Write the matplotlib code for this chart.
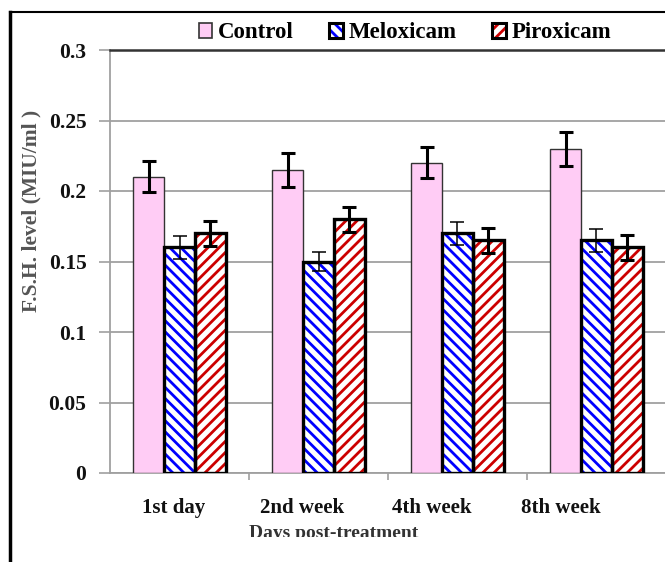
import matplotlib.pyplot as plt
import numpy as np
from matplotlib.legend_handler import HandlerTuple
from matplotlib.lines import Line2D
from matplotlib.patches import Patch
from matplotlib.transforms import Bbox

plt.rcParams["font.family"] = ["Liberation Serif", "DejaVu Serif"]
plt.rcParams["font.weight"] = "bold"
plt.rcParams["hatch.linewidth"] = 2.0

# ── data ──
categories = ["1st day", "2nd week", "4th week", "8th week"]
control = [0.21, 0.215, 0.22, 0.23]
control_err = [0.011, 0.012, 0.011, 0.012]
meloxicam = [0.16, 0.15, 0.17, 0.165]
meloxicam_err = [0.008, 0.007, 0.008, 0.008]
piroxicam = [0.17, 0.18, 0.165, 0.16]
piroxicam_err = [0.009, 0.009, 0.009, 0.009]
yticks = [0, 0.05, 0.1, 0.15, 0.2, 0.25, 0.3]

PINK = "#ffccf5"
BLUE = "#0000ff"
RED = "#cc0000"
BLUE_HATCH = "\\\\\\"
RED_HATCH = "///"

fig = plt.figure(figsize=(6.65, 5.62), dpi=100)
ax = fig.add_axes([110 / 665, 1 - 473 / 562, 556 / 665, 423 / 562])

x = np.arange(len(categories))
w = 0.223

# control: plain pink bars
ax.bar(x - w, control, w, color=PINK, edgecolor="#333333", linewidth=1.0, zorder=3)
ax.errorbar(x - w, control, yerr=control_err, fmt="none", ecolor="black",
            elinewidth=2.2, capsize=5, capthick=2.2, zorder=5)

# hatched bars: coloured hatch first, black outline on top
for off, vals, errs, col, hatch, elw in [
    (0.0, meloxicam, meloxicam_err, BLUE, BLUE_HATCH, 1.1),
    (w, piroxicam, piroxicam_err, RED, RED_HATCH, 2.2),
]:
    ax.bar(x + off, vals, w, color="white", edgecolor=col, hatch=hatch,
           linewidth=0, zorder=3)
    ax.bar(x + off, vals, w, fill=False, edgecolor="black", linewidth=2.4, zorder=4)
    ax.errorbar(x + off, vals, yerr=errs, fmt="none", ecolor="black",
                elinewidth=elw, capsize=5, capthick=elw, zorder=5)

ax.set_xlim(-0.5, len(categories) - 0.5)
ax.set_ylim(0, 0.3)
ax.set_yticks(yticks)
ax.set_yticklabels([f"{v:g}" for v in yticks], fontsize=15.5, color="#111111")
ax.yaxis.grid(True, color="#a0a0a0", linewidth=1.3, zorder=0)
ax.set_axisbelow(True)

# category names sit a little left of each group
ax.set_xticks([])
for i, name in enumerate(categories):
    ax.text(i - 0.045 - 0.07 * i, -0.0245, name, ha="center", va="center",
            fontsize=15, color="#111111", transform=ax.transData)
ax.set_xticks(np.arange(0.5, len(categories) - 0.5, 1), minor=True)
ax.tick_params(axis="x", which="minor", length=5, color="#a0a0a0", width=1.2)
ax.tick_params(axis="y", length=8, color="#a0a0a0", width=1.2, pad=9)

for s in ["left", "bottom"]:
    ax.spines[s].set_color("#a0a0a0")
    ax.spines[s].set_linewidth(1.3)
ax.spines["top"].set_color("#333333")
ax.spines["top"].set_linewidth(1.8)
ax.spines["right"].set_visible(False)

# axis titles
fig.text(31 / 665, 1 - 211 / 562, "F.S.H. level (MIU/ml )", rotation=90,
         ha="center", va="center", fontsize=15.5, color="#555555")
xl = fig.text(334 / 665, 1 - 534 / 562, "Days post-treatment", ha="center",
              va="center", fontsize=14, color="#333333")
# bottom of the x title is cut by the frame edge
xl.set_clip_box(Bbox.from_extents(0, 562 - 537, 665, 562))
xl.set_clip_on(True)

# legend: hatched swatches with a black outline on top
outline = dict(fill=False, edgecolor="black", linewidth=2.2)
handles = [
    Patch(facecolor=PINK, edgecolor="#333333", linewidth=1.2),
    (Patch(facecolor="white", edgecolor=BLUE, hatch=BLUE_HATCH, linewidth=0),
     Patch(**outline)),
    (Patch(facecolor="white", edgecolor=RED, hatch=RED_HATCH, linewidth=0),
     Patch(**outline)),
]
fig.legend(handles, ["Control", "Meloxicam", "Piroxicam"], loc="center",
           bbox_to_anchor=(405 / 665, 1 - 33 / 562), ncol=3, frameon=False,
           fontsize=16.5, handlelength=0.6, handleheight=0.6,
           handletextpad=0.25, columnspacing=1.55,
           handler_map={tuple: HandlerTuple(ndivide=1)})

# outer frame
fig.add_artist(Line2D([10 / 665, 10 / 665], [0, 1 - 12 / 562], color="black",
                      linewidth=2.5, transform=fig.transFigure))
fig.add_artist(Line2D([10 / 665, 1], [1 - 12 / 562, 1 - 12 / 562], color="black",
                      linewidth=1.5, transform=fig.transFigure))

fig.savefig("out.png", dpi=100)
